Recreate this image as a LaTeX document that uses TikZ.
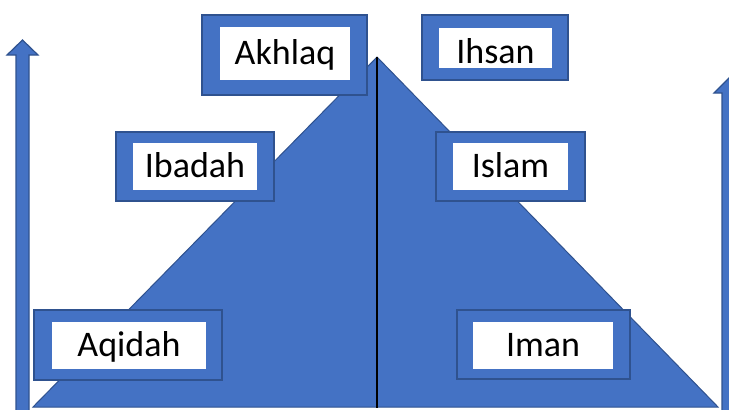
\documentclass[tikz,border=0pt]{standalone}
\usepackage{fontspec}
\setmainfont{Carlito}
\usetikzlibrary{positioning}

\definecolor{pyrblue}{HTML}{4472C4}
\definecolor{pyredge}{HTML}{2F528F}

\tikzset{
  outerbox/.style={rectangle, fill=pyrblue, draw=pyredge, line width=1.5pt, inner sep=0pt},
  innerbox/.style={rectangle, fill=white, inner sep=0pt, text height=27pt, text depth=5pt,
    font=\fontsize{36pt}{40pt}\selectfont},
  blockarrow/.style={fill=pyrblue, draw=pyredge, line width=1.2pt, line join=miter}
}

\begin{document}
\begin{tikzpicture}[x=1pt, y=-1pt]
    \useasboundingbox (0,0) rectangle (729,410);
    \clip (0,0) rectangle (729,410);

    % Spitze und Grundlinie der Pyramide
    \coordinate (Apex) at (377, 57);
    \coordinate (BaseL) at (33, 407);
    \coordinate (BaseR) at (718, 407);
    \coordinate (Foot) at (377, 408);

    % Pfeile links und rechts
    \draw[blockarrow] (16, 420) -- (16, 55) -- (7, 55) -- (22.5, 40) -- (38, 55) -- (29, 55) -- (29, 420) -- cycle;
    \draw[blockarrow] (722, 420) -- (722, 93) -- (714, 93) -- (729, 78) -- (744, 93) -- (736, 93) -- (736, 420) -- cycle;

    % Pyramide
    \draw[fill=pyrblue, draw=pyredge, line width=1pt] (Apex) -- (BaseR) -- (BaseL) -- cycle;

    % Mittellinie
    \draw[line width=2pt] (Apex) -- (Foot);

    % linke Seite
    \node[outerbox, minimum width=165pt, minimum height=80pt] (akhlaqO) at (284.5, 55) {};
    \node[innerbox, minimum width=130pt, minimum height=53pt] (akhlaq) at (285, 53.5) {Akhlaq};

    \node[outerbox, minimum width=158pt, minimum height=69pt] (ibadahO) at (195, 166.5) {};
    \node[innerbox, minimum width=124pt, minimum height=47pt] (ibadah) at (195, 166.5) {Ibadah};

    \node[outerbox, minimum width=188pt, minimum height=70pt] (aqidahO) at (128, 345) {};
    \node[innerbox, minimum width=154pt, minimum height=47pt] (aqidah) at (129, 345.5) {Aqidah};

    % rechte Seite
    \node[outerbox, minimum width=146pt, minimum height=65pt] (ihsanO) at (495, 47.5) {};
    \node[innerbox, minimum width=113pt, minimum height=40pt, text height=31pt, text depth=1pt] (ihsan) at (495.5, 48) {Ihsan};

    \node[outerbox, minimum width=149pt, minimum height=69pt] (islamO) at (510.5, 166.5) {};
    \node[innerbox, minimum width=115pt, minimum height=47pt] (islam) at (510.5, 166.5) {Islam};

    \node[outerbox, minimum width=173pt, minimum height=69pt] (imanO) at (543.5, 344.5) {};
    \node[innerbox, minimum width=140pt, minimum height=47pt] (iman) at (543, 345.5) {Iman};
\end{tikzpicture}
\end{document}
